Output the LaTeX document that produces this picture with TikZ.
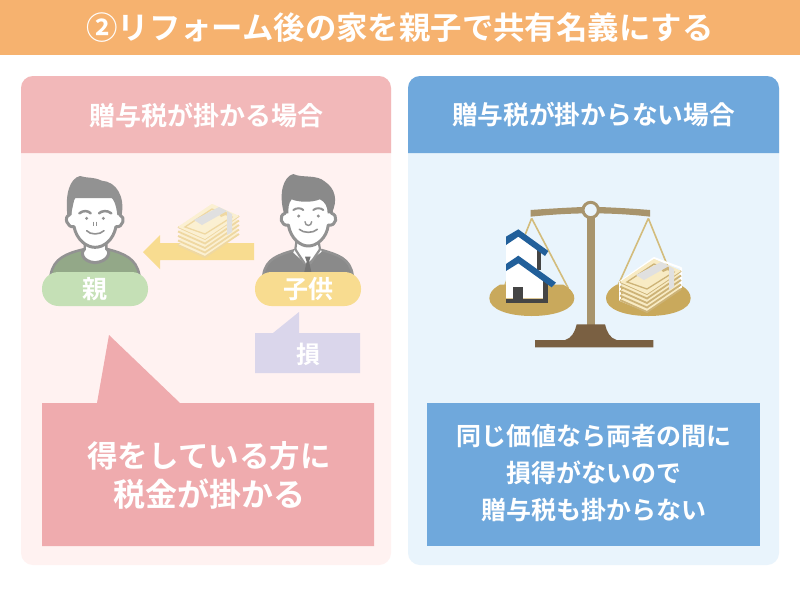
\documentclass[tikz,border=0pt]{standalone}
\usepackage{fontspec}
\usepackage[dvipsnames]{xcolor}
\newfontfamily\cjk{Noto Sans CJK JP}[BoldFont={Noto Sans CJK JP Bold}]

\definecolor{titleorange}{HTML}{F6B26F}
\definecolor{losspink}{HTML}{F2B8B9}
\definecolor{losspale}{HTML}{FFF2F1}
\definecolor{lossbox}{HTML}{EFABAE}
\definecolor{evenblue}{HTML}{6FA8DC}
\definecolor{evenpale}{HTML}{E9F4FC}
\definecolor{parentpill}{HTML}{C5E0B6}
\definecolor{parentshirt}{HTML}{93A888}
\definecolor{childpill}{HTML}{F8DC90}
\definecolor{losslilac}{HTML}{DAD6EB}
\definecolor{hairgrey}{HTML}{929292}
\definecolor{suitgrey}{HTML}{8A8A8A}
\definecolor{beambrown}{HTML}{A8946C}
\definecolor{footbrown}{HTML}{7A6042}
\definecolor{pangold}{HTML}{C9A95C}
\definecolor{stringgold}{HTML}{D3BC7C}
\definecolor{roofblue}{HTML}{215F9A}
\definecolor{wallgrey}{HTML}{454545}
\definecolor{notepale}{HTML}{FBF0D2}
\definecolor{noteline}{HTML}{EFD8A2}
\definecolor{notecream}{HTML}{F8EBC4}
\definecolor{notetan}{HTML}{CDB377}

\tikzset{
  labeltext/.style={text=white,font=\cjk\bfseries,align=center,inner sep=0pt},
  pillbox/.style={rounded corners=16.5pt,minimum width=106pt,minimum height=34pt,labeltext,font=\cjk\bfseries\fontsize{25}{28}\selectfont},
  facedraw/.style={draw=hairgrey,line width=3pt,fill=white,line join=round}
}

% one stack of notes, #1 is the left corner
\newcommand{\notestack}[4]{
  \begin{scope}[shift={#1}]
    \foreach \d in {18,13.5,9,4.5,0} {
      \fill[#2] (0,\d) -- (34,\d-23) -- (61,\d-11) -- (27,\d+12) -- cycle;
      \draw[#3,line width=1.8pt] (0,\d) -- (27,\d+12) -- (61,\d-11);
    }
    \fill[#2] (0,0) -- (34,-23) -- (61,-11) -- (27,12) -- cycle;
    \draw[#3,line width=1.3pt] (7,0) -- (34,-18) -- (54,-10) -- (27,7) -- cycle;
    \fill[#3] (40,-14) -- (47,-17) -- (50,-13) -- (43,-10) -- cycle;
    \fill[#4] (16,-7) -- (41,-20) -- (49,-16) -- (24,-2) -- cycle;
    \fill[#4] (49,-16) -- (54,-13) -- (54,5) -- (49,8) -- cycle;
  \end{scope}
}

\begin{document}
\begin{tikzpicture}[x=1pt,y=-1pt]

  \useasboundingbox (0,0) rectangle (800,600);
  \fill[white] (0,0) rectangle (800,600);

  % title
  \fill[titleorange] (0,0) rectangle (800,55);
  \node[labeltext,font=\cjk\bfseries\fontsize{31.4}{34}\selectfont] (title) at (400,27.5) {②リフォーム後の家を親子で共有名義にする};

  % left panel
  \fill[losspale,rounded corners=12pt] (21,76) rectangle (391,565);
  \fill[losspink] (21,153) {[rounded corners=12pt] -- (21,76) -- (391,76)} -- (391,153) -- cycle;
  \node[labeltext,font=\cjk\bfseries\fontsize{26}{30}\selectfont] (losshead) at (206,115) {贈与税が掛かる場合};

  % right panel
  \fill[evenpale,rounded corners=12pt] (408,76) rectangle (779,565);
  \fill[evenblue] (408,153) {[rounded corners=12pt] -- (408,76) -- (779,76)} -- (779,153) -- cycle;
  \node[labeltext,font=\cjk\bfseries\fontsize{25.7}{30}\selectfont] (evenhead) at (593.5,115) {贈与税が掛からない場合};

  % parent
  \begin{scope}[shift={(30,160)},scale=1/3]
    \filldraw[draw=hairgrey,line width=2.5pt,fill=parentshirt] (62,345) .. controls (70,295) and (110,280) .. (160,268) -- (235,268) .. controls (280,280) and (320,295) .. (328,345) -- cycle;
    \filldraw[draw=hairgrey,line width=3pt,fill=white] (165,235) -- (165,265) .. controls (150,275) and (155,305) .. (195,308) .. controls (235,305) and (245,275) .. (228,265) -- (228,235) -- cycle;
    \fill[white] (168,230) rectangle (225,270);
    \filldraw[facedraw] (118,165) .. controls (100,170) and (112,205) .. (132,200) .. controls (140,240) and (170,262) .. (195,262) .. controls (222,262) and (250,240) .. (258,200) .. controls (278,205) and (288,170) .. (270,165) -- (262,110) -- (130,110) -- cycle;
    \fill[hairgrey] (112,165) .. controls (105,100) and (120,55) .. (150,48) .. controls (170,55) and (190,50) .. (215,62) .. controls (260,65) and (285,110) .. (275,165) -- (262,165) .. controls (258,130) and (250,110) .. (230,105) .. controls (190,112) and (150,105) .. (135,115) .. controls (125,130) and (125,150) .. (125,165) -- cycle;
    \draw[hairgrey,line width=2.5pt,line cap=round] (148,160) .. controls (160,150) and (175,152) .. (182,160);
    \draw[hairgrey,line width=2.5pt,line cap=round] (207,160) .. controls (215,152) and (232,150) .. (244,160);
    \fill[hairgrey] (170,175) circle (5);
    \fill[hairgrey] (220,175) circle (5);
    \draw[hairgrey,line width=1.3pt] (190,185) -- (190,198) (200,185) -- (200,198);
    \draw[hairgrey,line width=1.6pt,line cap=round] (170,212) .. controls (180,225) and (210,225) .. (222,212);
  \end{scope}

  % child
  \begin{scope}[shift={(30,160)},scale=1/3]
    \filldraw[draw=hairgrey,line width=2.5pt,fill=suitgrey] (700,345) .. controls (708,295) and (745,285) .. (795,270) -- (875,270) .. controls (925,285) and (960,295) .. (968,345) -- cycle;
    \fill[white] (790,278) -- (828,312) -- (875,275) -- (860,240) -- (805,240) -- cycle;
    \draw[hairgrey,line width=2.2pt] (800,240) -- (796,268) -- (825,312) (865,240) -- (870,268) -- (840,312);
    \fill[suitgrey!85!black] (825,290) -- (842,290) -- (837,305) -- (845,340) -- (822,340) -- (830,305) -- cycle;
    \filldraw[facedraw] (765,160) .. controls (745,165) and (752,200) .. (775,195) .. controls (782,235) and (810,258) .. (835,258) .. controls (860,258) and (890,235) .. (895,195) .. controls (920,200) and (925,165) .. (905,160) -- (895,110) -- (775,110) -- cycle;
    \fill[suitgrey] (762,160) .. controls (745,100) and (760,50) .. (790,42) .. controls (815,55) and (860,42) .. (885,65) .. controls (915,85) and (925,120) .. (905,160) -- (893,160) .. controls (893,140) and (885,125) .. (870,118) .. controls (840,130) and (800,125) .. (785,118) .. controls (775,130) and (775,145) .. (775,160) -- cycle;
    \draw[hairgrey,line width=2pt,line cap=round] (790,150) .. controls (800,143) and (812,143) .. (820,150);
    \draw[hairgrey,line width=2pt,line cap=round] (850,150) .. controls (858,143) and (872,143) .. (880,150);
    \fill[hairgrey] (806,168) circle (5);
    \fill[hairgrey] (865,168) circle (5);
    \draw[hairgrey,line width=1.4pt,line cap=round] (825,185) .. controls (825,200) and (845,200) .. (845,185);
    \draw[hairgrey,line width=1.6pt,line cap=round] (808,208) .. controls (820,220) and (850,220) .. (862,208);
  \end{scope}

  % arrow and notes
  \fill[childpill] (143,252) -- (160,235) -- (160,243) -- (254,243) -- (254,260) -- (160,260) -- (160,269) -- cycle;
  \notestack{(178,227)}{notepale}{noteline}{black!12}

  % labels under the persons
  \node[pillbox,fill=parentpill] (parent) at (95,289) {親};
  \node[pillbox,fill=childpill] (child) at (308,289) {子供};

  % loss callout
  \fill[losslilac] (255,333) -- (273,333) -- (299,312) -- (299,333) -- (360,333) -- (360,373) -- (255,373) -- cycle;
  \node[labeltext,font=\cjk\bfseries\fontsize{24}{28}\selectfont] (loss) at (308,354) {損};

  % big callout
  \fill[lossbox] (42,403) -- (97,403) -- (109,335) -- (180,403) -- (374,403) -- (374,546) -- (42,546) -- cycle;
  \node[labeltext,font=\cjk\bfseries\fontsize{30.5}{39}\selectfont] (lossnote) at (209,475) {得をしている方に\\{\fontsize{32}{39}\selectfont 税金が掛かる}};

  % balance
  \begin{scope}[shift={(480,190)},scale=1/3]
    \draw[stringgold,line width=1.6pt] (155,85) -- (75,285) (155,85) -- (265,295) (505,85) -- (410,295) (505,85) -- (590,295);
    \fill[pangold] (60,284) .. controls (35,298) and (28,312) .. (28,325) .. controls (28,358) and (85,378) .. (155,378) .. controls (225,378) and (283,358) .. (283,325) .. controls (283,312) and (275,298) .. (250,284) -- cycle;
    \fill[pangold] (410,284) .. controls (385,298) and (378,312) .. (378,325) .. controls (378,358) and (435,378) .. (505,378) .. controls (575,378) and (632,358) .. (632,325) .. controls (632,312) and (625,298) .. (600,284) -- cycle;
    \fill[beambrown] (320,80) rectangle (345,410);
    \fill[beambrown] (152,60) .. controls (220,55) and (280,52) .. (332,50) .. controls (390,52) and (450,55) .. (510,60) -- (510,80) .. controls (450,73) and (390,70) .. (332,70) .. controls (280,70) and (220,73) .. (152,80) -- cycle;
    \filldraw[fill=evenpale,draw=beambrown,line width=3pt] (332,60) circle (23);
    \fill[footbrown] (165,450) -- (255,450) .. controls (275,445) and (285,425) .. (290,403) -- (375,403) .. controls (380,425) and (390,445) .. (410,450) -- (520,450) -- (520,472) -- (165,472) -- cycle;

    % house
    \fill[white] (78,150) -- (115,130) -- (175,175) -- (175,240) -- (78,240) -- cycle;
    \fill[wallgrey] (170,180) rectangle (183,240);
    \fill[white] (78,235) -- (115,212) -- (190,265) -- (190,325) -- (78,325) -- cycle;
    \fill[wallgrey] (190,270) rectangle (203,338);
    \fill[wallgrey] (78,327) rectangle (203,338);
    \fill[wallgrey] (100,290) rectangle (130,330);
    \fill[roofblue] (78,140) -- (115,118) -- (205,183) -- (195,198) -- (115,140) -- (78,165) -- cycle;
    \fill[roofblue] (78,222) -- (115,197) -- (228,278) -- (215,292) -- (115,220) -- (78,243) -- cycle;
  \end{scope}
  \draw[white,line width=2pt,line join=round] (620,282) -- (654,258) -- (681,268) -- (681,287) -- (647,311) -- (620,300) -- cycle;
  \notestack{(620,282)}{notecream}{notetan}{white!88!black}

  % even note
  \fill[evenblue] (427,403) rectangle (760,546);
  \node[labeltext,font=\cjk\bfseries\fontsize{25}{37}\selectfont] (evennote) at (594,473) {同じ価値なら両者の間に\\損得がないので\\贈与税も掛からない};

\end{tikzpicture}
\end{document}
